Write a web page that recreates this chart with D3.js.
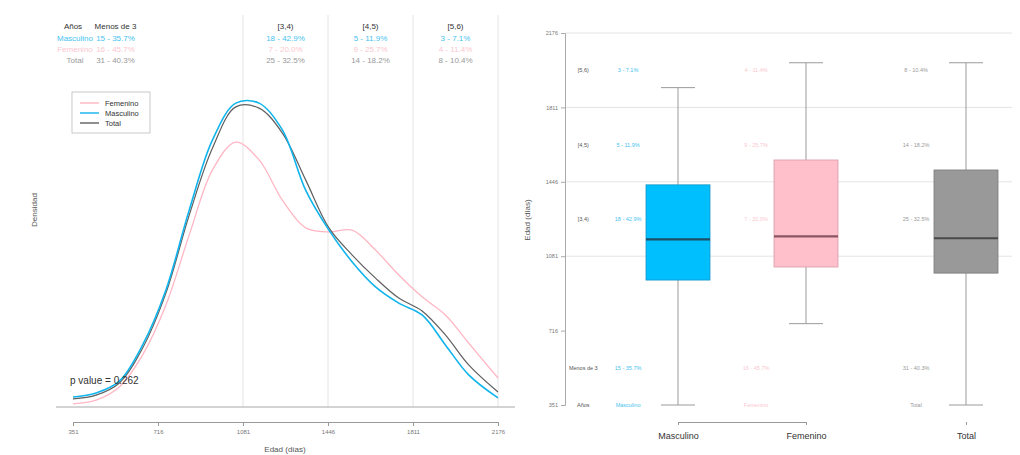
<!DOCTYPE html>
<html>
<head>
<meta charset="utf-8">
<script src="https://cdn.jsdelivr.net/npm/d3@7"></script>
<style>
  body { margin: 0; background: #fff; }
  svg text { font-family: "Liberation Sans", Arial, sans-serif; }
</style>
</head>
<body>
<svg id="chart" width="1020" height="455"></svg>
<script>
"use strict"

// ---- data ----
var edadTicks = [351, 716, 1081, 1446, 1811, 2176];
var cortes    = [1081, 1446, 1811, 2176];

// density curves (values x 1e-6 per day)
var edad     = [351, 450, 550, 650, 750, 850, 950, 1050, 1150, 1250, 1350, 1450, 1550, 1650, 1750, 1850, 1950, 2050, 2176];
var densMasc = [32, 45, 83, 199, 375, 631, 856, 974, 974, 888, 695, 567, 465, 385, 333, 295, 199, 103, 29];
var densFem  = [10, 22, 64, 167, 327, 551, 760, 849, 792, 663, 574, 561, 567, 503, 423, 353, 295, 205, 93];
var densTot  = [26, 38, 77, 189, 365, 615, 830, 962, 958, 878, 728, 574, 487, 413, 349, 308, 231, 135, 48];

var grupos = ["Masculino", "Femenino", "Total"];
var rangos = ["Menos de 3", "[3,4)", "[4,5)", "[5,6)"];
var rangoEdad = [533.5, 1263.5, 1628.5, 1993.5];
var nMasc = [15, 18, 5, 3];
var pMasc = ["35.7", "42.9", "11.9", "7.1"];
var nFem  = [16, 7, 9, 4];
var pFem  = ["45.7", "20.0", "25.7", "11.4"];
var nTot  = [31, 25, 14, 8];
var pTot  = ["40.3", "32.5", "18.2", "10.4"];

// boxplot stats (days)
var boxAt = [1, 2, 3.25];
var bMin = [351, 750, 351];
var bQ1  = [964, 1028, 998];
var bMed = [1164, 1178, 1169];
var bQ3  = [1431, 1553, 1504];
var bMax = [1908, 2030, 2030];

var pValor = "p value = 0.262";

// ---- styles ----
var colMasc = "#10b4ec", colFem = "#ffb6c4", colTot = "#5f5f5f";
var txtMasc = "#45c3ef", txtFem = "#fbc7d0", txtTot = "#9a9a9a";
var fills   = ["#00bfff", "#ffc0cb", "#999999"];
var borders = ["#1496c4", "#d99aa6", "#7a7a7a"];
var medCol  = ["#1d4e66", "#8a5560", "#4a4a4a"];
var txtCols = [txtMasc, txtFem, txtTot];

var svg = d3.select("#chart");

// ================= left: densities =================
var x = d3.scaleLinear().domain([351, 2176]).range([73, 498]);
var y = d3.scaleLinear().domain([0, 1000]).range([407, 95]);

var left = svg.append("g");

left.selectAll(".corte")
    .data(cortes)
    .enter().append("line")
    .attr("x1", d => x(d)).attr("x2", d => x(d))
    .attr("y1", 15).attr("y2", 407)
    .style("stroke", "#e4e4e4").style("stroke-width", 1);

left.append("line")
    .attr("x1", 56).attr("x2", 515)
    .attr("y1", y(0)).attr("y2", y(0))
    .style("stroke", "#a8a8a8");

var linea = d3.line()
    .x(function(d){ return x(d[0]); })
    .y(function(d){ return y(d[1]); })
    .curve(d3.curveCatmullRom);

var series = [
  {nom: "Femenino",  val: densFem,  col: colFem, w: 1.3},
  {nom: "Total",     val: densTot,  col: colTot, w: 1.2},
  {nom: "Masculino", val: densMasc, col: colMasc, w: 1.6}
];
series.forEach(function(s){
  left.append("path")
      .datum(d3.zip(edad, s.val))
      .attr("d", linea)
      .style("fill", "none")
      .style("stroke", s.col)
      .style("stroke-width", s.w);
});

// x axis
var xAxis = d3.axisBottom(x).tickValues(edadTicks).tickSize(4).tickFormat(d3.format("d"));
var gx = left.append("g").attr("transform", "translate(0,422)").call(xAxis);
gx.select(".domain").style("stroke", "#999");
gx.selectAll(".tick line").style("stroke", "#999");
gx.selectAll("text").style("font-size", "6px").style("fill", "#777").attr("dy", "0.9em");

left.append("text").attr("x", 285).attr("y", 452)
    .attr("text-anchor", "middle").style("font-size", "8px").style("fill", "#555")
    .text("Edad (días)");
left.append("text").attr("transform", "translate(37,210) rotate(-90)")
    .attr("text-anchor", "middle").style("font-size", "8px").style("fill", "#555")
    .text("Densidad");

left.append("text").attr("x", 70).attr("y", 384)
    .style("font-size", "10px").style("fill", "#333")
    .text(pValor);

// legend
var leg = left.append("g").attr("transform", "translate(72,92)");
leg.append("rect").attr("width", 78).attr("height", 41)
   .style("fill", "#fff").style("stroke", "#bbb").style("stroke-width", 0.8);
[["Femenino", colFem], ["Masculino", colMasc], ["Total", colTot]].forEach(function(e, i){
  var yy = 11 + i * 10;
  leg.append("line").attr("x1", 8).attr("x2", 27).attr("y1", yy).attr("y2", yy)
     .style("stroke", e[1]).style("stroke-width", 1.4);
  leg.append("text").attr("x", 33).attr("y", yy + 3)
     .style("font-size", "7.5px").style("fill", "#333").text(e[0]);
});

// header table
var hdrY = 29, rowY = [41, 52, 63];
left.append("text").attr("x", x(351)).attr("y", hdrY).attr("text-anchor", "middle")
    .style("font-size", "8px").style("fill", "#333").text("Años");
left.selectAll(".hdr").data(rangos).enter().append("text")
    .attr("x", function(d, i){ return x(rangoEdad[i]); }).attr("y", hdrY)
    .attr("text-anchor", "middle").style("font-size", "8px").style("fill", "#333")
    .text(d => d);

var tabla = [[nMasc, pMasc], [nFem, pFem], [nTot, pTot]];
tabla.forEach(function(t, r){
  left.append("text").attr("x", x(351) + 2).attr("y", rowY[r]).attr("text-anchor", "middle")
      .style("font-size", "8px").style("fill", txtCols[r]).text(grupos[r]);
  left.selectAll(".cel" + r).data(t[0]).enter().append("text")
      .attr("x", function(d, i){ return x(rangoEdad[i]); }).attr("y", rowY[r])
      .attr("text-anchor", "middle").style("font-size", "8px").style("fill", txtCols[r])
      .text(function(d, i){ return d + " - " + t[1][i] + "%"; });
});

// ================= right: boxplots =================
var xb = d3.scaleLinear().domain([1, 2]).range([678, 806]);
var yb = d3.scaleLinear().domain([351, 2176]).range([405, 33]);
var right = svg.append("g");

right.selectAll(".grid").data(cortes).enter().append("line")
     .attr("x1", 565).attr("x2", 1012)
     .attr("y1", d => yb(d)).attr("y2", d => yb(d))
     .style("stroke", "#e4e4e4");

var yAxis = d3.axisLeft(yb).tickValues(edadTicks).tickSize(4).tickFormat(d3.format("d"));
var gy = right.append("g").attr("transform", "translate(565,0)").call(yAxis);
gy.select(".domain").style("stroke", "#aaa");
gy.selectAll(".tick line").style("stroke", "#aaa");
gy.selectAll("text").style("font-size", "5.5px").style("fill", "#777");

right.append("text").attr("transform", "translate(530,220) rotate(-90)")
     .attr("text-anchor", "middle").style("font-size", "8px").style("fill", "#555")
     .text("Edad (días)");

// row labels + counts
var lblX = xb(0.26);
right.append("text").attr("x", lblX).attr("y", yb(351) + 2).attr("text-anchor", "middle")
     .style("font-size", "5.5px").style("fill", "#555").text("Años");
right.selectAll(".rl").data(rangos).enter().append("text")
     .attr("x", lblX).attr("y", (d, i) => yb(rangoEdad[i]) + 2)
     .attr("text-anchor", "middle").style("font-size", "5.5px").style("fill", "#555")
     .text(d => d);
tabla.forEach(function(t, g){
  var cx = xb(boxAt[g] - 0.39);
  right.append("text").attr("x", cx).attr("y", yb(351) + 2).attr("text-anchor", "middle")
       .style("font-size", "5.5px").style("fill", txtCols[g]).text(grupos[g]);
  right.selectAll(".rc" + g).data(t[0]).enter().append("text")
       .attr("x", cx).attr("y", (d, i) => yb(rangoEdad[i]) + 2)
       .attr("text-anchor", "middle").style("font-size", "5.5px").style("fill", txtCols[g])
       .text(function(d, i){ return d + " - " + t[1][i] + "%"; });
});

// boxes
var halfW = 32, capW = 17;
grupos.forEach(function(gname, g){
  var cx = xb(boxAt[g]);
  var b = right.append("g");
  b.append("line").attr("x1", cx).attr("x2", cx).attr("y1", yb(bMax[g])).attr("y2", yb(bQ3[g]))
   .style("stroke", "#9a9a9a");
  b.append("line").attr("x1", cx).attr("x2", cx).attr("y1", yb(bQ1[g])).attr("y2", yb(bMin[g]))
   .style("stroke", "#9a9a9a");
  [bMax[g], bMin[g]].forEach(function(v){
    b.append("line").attr("x1", cx - capW).attr("x2", cx + capW)
     .attr("y1", yb(v)).attr("y2", yb(v)).style("stroke", "#9a9a9a");
  });
  b.append("rect").attr("x", cx - halfW).attr("width", halfW * 2)
   .attr("y", yb(bQ3[g])).attr("height", yb(bQ1[g]) - yb(bQ3[g]))
   .style("fill", fills[g]).style("stroke", borders[g]).style("stroke-width", 0.8);
  b.append("line").attr("x1", cx - halfW).attr("x2", cx + halfW)
   .attr("y1", yb(bMed[g])).attr("y2", yb(bMed[g]))
   .style("stroke", medCol[g]).style("stroke-width", 2.2);
});

// bottom axis
var xbAxis = d3.axisBottom(xb).tickValues(boxAt).tickSize(3).tickFormat(function(d, i){ return grupos[i]; });
var gxb = right.append("g").attr("transform", "translate(0,422)").call(xbAxis);
gxb.select(".domain").style("stroke", "#999");
gxb.selectAll(".tick line").style("stroke", "#999");
gxb.selectAll("text").style("font-size", "9px").style("fill", "#333").attr("dy", "1.2em");
</script>
</body>
</html>
